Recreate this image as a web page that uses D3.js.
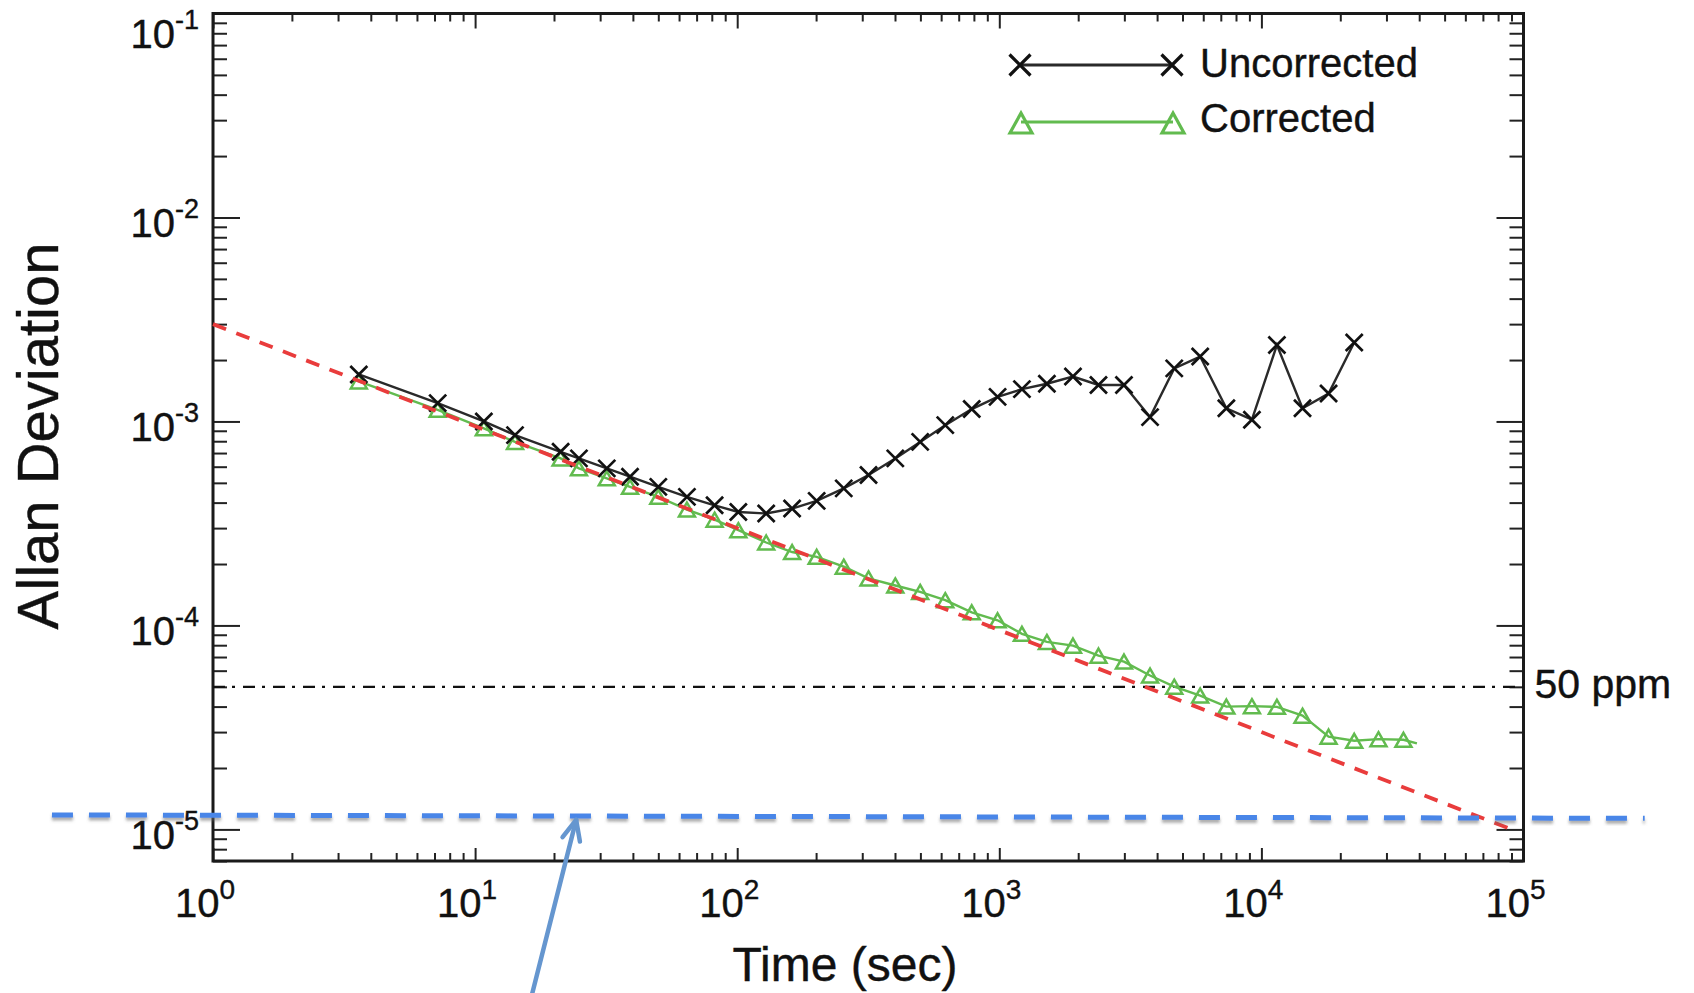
<!DOCTYPE html>
<html>
<head>
<meta charset="utf-8">
<script src="https://cdn.jsdelivr.net/npm/d3@7"></script>
<style>
  body { margin: 0; background: #fff; }
  text { font-family: "Liberation Sans", Arial, Helvetica, sans-serif; fill: #111; stroke: #111; stroke-width: 0.4px; }
</style>
</head>
<body>
<div id="chart"></div>
<script>
// averaging time (sec) shared by both series
const tau = [3.6, 7.2, 10.8, 14.2, 21.2, 24.9, 31.8, 39, 50, 64.3, 82, 101, 129, 162, 201, 255, 317, 401, 499, 622,
  785, 985, 1220, 1519, 1910, 2390, 2990, 3760, 4650, 5840, 7350, 9200, 11460, 14350, 18040, 22600, 27970, 34830, 39200];

// Allan deviation, uncorrected (first 36 tau values)
const uncorrected = [1.70e-3, 1.23e-3, 1.0e-3, 8.57e-4, 7.1e-4, 6.59e-4, 5.89e-4, 5.36e-4, 4.78e-4, 4.27e-4,
  3.88e-4, 3.6e-4, 3.54e-4, 3.74e-4, 4.08e-4, 4.7e-4, 5.46e-4, 6.59e-4, 7.94e-4, 9.59e-4,
  1.15e-3, 1.32e-3, 1.44e-3, 1.53e-3, 1.66e-3, 1.51e-3, 1.51e-3, 1.05e-3, 1.82e-3, 2.08e-3,
  1.16e-3, 1.02e-3, 2.37e-3, 1.16e-3, 1.37e-3, 2.44e-3];

// Allan deviation, corrected (all tau values, last point has no symbol)
const corrected = [1.57e-3, 1.14e-3, 9.25e-4, 7.94e-4, 6.59e-4, 5.89e-4, 5.26e-4, 4.78e-4, 4.27e-4, 3.7e-4,
  3.3e-4, 2.93e-4, 2.55e-4, 2.29e-4, 2.17e-4, 1.94e-4, 1.70e-4, 1.57e-4, 1.46e-4, 1.33e-4,
  1.16e-4, 1.06e-4, 9.1e-5, 8.3e-5, 7.96e-5, 7.11e-5, 6.65e-5, 5.68e-5, 5.01e-5, 4.53e-5,
  4.0e-5, 4.02e-5, 3.99e-5, 3.61e-5, 2.85e-5, 2.72e-5, 2.77e-5, 2.75e-5, 2.64e-5];

// white-noise fit (tau^-1/2), end points
const fitLine = [{ t: 1, v: 3.0e-3 }, { t: 9e4, v: 1.0e-5 }];

// 50 ppm threshold
const threshold = 5e-5;
const thresholdLabel = "50 ppm";

// blue annotation line and arrow (added on top of the figure)
const blueLine = [{ t: 0.243, v: 1.178e-5 }, { t: 2.9e5, v: 1.133e-5 }];
const blueArrow = [{ t: 16.5, v: 1.56e-6 }, { t: 24.3, v: 1.114e-5 }];

// tick decades
const xTickExps = [0, 1, 2, 3, 4, 5];
const yTickExps = [-5, -4, -3, -2, -1];

const seriesNames = ["Uncorrected", "Corrected"];

const W = 1694, H = 993;
const plot = { left: 213, right: 1523.5, top: 13.5, bottom: 861 };

const svg = d3.select("#chart").append("svg")
    .attr("width", W)
    .attr("height", H);

// shadow for the blue annotation
const defs = svg.append("defs");
const shadow = defs.append("filter").attr("id", "shadow")
    .attr("x", "-5%").attr("y", "-200%").attr("width", "110%").attr("height", "500%");
shadow.append("feDropShadow")
    .attr("dx", 0).attr("dy", 3).attr("stdDeviation", 1.6)
    .attr("flood-color", "#666").attr("flood-opacity", 0.55);

// Scales
const x = d3.scaleLog().domain([1, 1e5]).range([plot.left, plot.right]);
const y = d3.scaleLog().domain([7e-6, 0.1]).range([plot.bottom, plot.top]);

// major / minor tick values
function logTicks(domain) {
    const major = [], minor = [];
    const k0 = Math.floor(Math.log10(domain[0])), k1 = Math.ceil(Math.log10(domain[1]));
    for (let k = k0; k <= k1; k++) {
        for (let m = 1; m <= 9; m++) {
            const v = m * Math.pow(10, k);
            if (v < domain[0] * 0.999 || v > domain[1] * 1.001) continue;
            (m === 1 ? major : minor).push(v);
        }
    }
    return { major, minor };
}
const xt = logTicks(x.domain());
const yt = logTicks(y.domain());

function drawAxis(axis, tx, ty) {
    const g = svg.append("g")
        .attr("transform", `translate(${tx},${ty})`)
        .call(axis);
    g.select(".domain").remove();
    g.selectAll("line").attr("stroke", "#222").attr("stroke-width", 2);
    return g;
}

// ticks, all pointing into the plot
drawAxis(d3.axisLeft(y).tickValues(yt.major).tickSize(-27).tickFormat(""), plot.left, 0);
drawAxis(d3.axisLeft(y).tickValues(yt.minor).tickSize(-14).tickFormat(""), plot.left, 0);
drawAxis(d3.axisRight(y).tickValues(yt.major).tickSize(-27).tickFormat(""), plot.right, 0);
drawAxis(d3.axisRight(y).tickValues(yt.minor).tickSize(-14).tickFormat(""), plot.right, 0);
drawAxis(d3.axisBottom(x).tickValues(xt.major).tickSize(-13).tickFormat(""), 0, plot.bottom);
drawAxis(d3.axisBottom(x).tickValues(xt.minor).tickSize(-8).tickFormat(""), 0, plot.bottom);
drawAxis(d3.axisTop(x).tickValues(xt.major).tickSize(-15).tickFormat(""), 0, plot.top);
drawAxis(d3.axisTop(x).tickValues(xt.minor).tickSize(-8).tickFormat(""), 0, plot.top);

// frame
svg.append("rect")
    .attr("x", plot.left).attr("y", plot.top)
    .attr("width", plot.right - plot.left).attr("height", plot.bottom - plot.top)
    .attr("fill", "none").attr("stroke", "#1a1a1a").attr("stroke-width", 3);

// tick labels 10^n
function powLabel(g, e, size, supSize, supDy) {
    g.append("tspan").attr("font-size", size).text("10");
    g.append("tspan").attr("font-size", supSize).attr("dy", supDy).text(e);
}
yTickExps.forEach(e => {
    const t = svg.append("text")
        .attr("x", 199)
        .attr("y", Math.max(y(Math.pow(10, e)) + 20, 48))
        .attr("text-anchor", "end");
    powLabel(t, e, 40, 27, -19);
});
xTickExps.forEach(e => {
    const t = svg.append("text")
        .attr("x", x(Math.pow(10, e)) - 8)
        .attr("y", 917)
        .attr("text-anchor", "middle");
    powLabel(t, e, 40, 28, -18);
});

// axis titles
svg.append("text")
    .attr("x", 845).attr("y", 981)
    .attr("text-anchor", "middle")
    .attr("font-size", 48)
    .text("Time (sec)");

svg.append("text")
    .attr("transform", "translate(58,436) rotate(-90)")
    .attr("text-anchor", "middle")
    .attr("font-size", 58)
    .text("Allan Deviation");

// 50 ppm line
svg.append("line")
    .attr("x1", plot.left).attr("x2", plot.right)
    .attr("y1", y(threshold)).attr("y2", y(threshold))
    .attr("stroke", "#111").attr("stroke-width", 2.2)
    .attr("stroke-dasharray", "12,7,3,8");

svg.append("text")
    .attr("x", plot.right + 11).attr("y", y(threshold) + 11)
    .attr("font-size", 41)
    .text(thresholdLabel);

// series
const green = "#62bb4f";
const line = d3.line().x(d => x(d.t)).y(d => y(d.v));
const corrData = corrected.map((v, i) => ({ t: tau[i], v }));
const uncData = uncorrected.map((v, i) => ({ t: tau[i], v }));

function xPath(s) { return `M${-s},${-s}L${s},${s}M${-s},${s}L${s},${-s}`; }
function triPath(w, h) { return `M0,${-h / 2}L${w / 2},${h / 2}L${-w / 2},${h / 2}Z`; }

svg.append("path")
    .datum(corrData)
    .attr("fill", "none").attr("stroke", green).attr("stroke-width", 2.4)
    .attr("d", line);

svg.selectAll(".tri")
    .data(corrData.slice(0, -1))
    .enter().append("path")
    .attr("class", "tri")
    .attr("transform", d => `translate(${x(d.t)},${y(d.v)})`)
    .attr("d", triPath(16, 14))
    .attr("fill", "none").attr("stroke", green).attr("stroke-width", 2.5);

svg.append("path")
    .datum(uncData)
    .attr("fill", "none").attr("stroke", "#2a2a2a").attr("stroke-width", 2.4)
    .attr("d", line);

svg.selectAll(".cross")
    .data(uncData)
    .enter().append("path")
    .attr("class", "cross")
    .attr("transform", d => `translate(${x(d.t)},${y(d.v)})`)
    .attr("d", xPath(8.5))
    .attr("fill", "none").attr("stroke", "#111").attr("stroke-width", 2.7);

// fit line
svg.append("path")
    .datum(fitLine)
    .attr("fill", "none").attr("stroke", "#e93c3c").attr("stroke-width", 3.8)
    .attr("stroke-dasharray", "14,11")
    .attr("d", line);

// legend
const legend = svg.append("g");
legend.append("line")
    .attr("x1", 1020).attr("x2", 1172).attr("y1", 65).attr("y2", 65)
    .attr("stroke", "#2a2a2a").attr("stroke-width", 2.8);
[1020, 1172].forEach(px => {
    legend.append("path")
        .attr("transform", `translate(${px},65)`)
        .attr("d", xPath(10.5))
        .attr("fill", "none").attr("stroke", "#111").attr("stroke-width", 3.2);
});
legend.append("line")
    .attr("x1", 1021).attr("x2", 1173).attr("y1", 122).attr("y2", 122)
    .attr("stroke", green).attr("stroke-width", 2.8);
[1021, 1173].forEach(px => {
    legend.append("path")
        .attr("transform", `translate(${px},123)`)
        .attr("d", triPath(22, 20))
        .attr("fill", "none").attr("stroke", green).attr("stroke-width", 3.2);
});
seriesNames.forEach((name, i) => {
    legend.append("text")
        .attr("x", 1200).attr("y", 77 + i * 55)
        .attr("font-size", 40)
        .text(name);
});

// blue dashed annotation
svg.append("path")
    .datum(blueLine)
    .attr("fill", "none").attr("stroke", "#4a86e8").attr("stroke-width", 5)
    .attr("stroke-dasharray", "21,16")
    .attr("filter", "url(#shadow)")
    .attr("d", line);

// blue arrow
const a0 = [x(blueArrow[0].t), y(blueArrow[0].v)];
const a1 = [x(blueArrow[1].t), y(blueArrow[1].v)];
const ang = Math.atan2(a0[1] - a1[1], a0[0] - a1[0]);
const barb = 22, spread = 0.42;
const arrow = svg.append("g")
    .attr("fill", "none").attr("stroke", "#6596cf").attr("stroke-width", 4.5)
    .attr("stroke-linecap", "round").attr("stroke-linejoin", "round");
arrow.append("path").attr("d", line(blueArrow));
arrow.append("path").attr("d",
    `M${a1[0] + barb * Math.cos(ang - spread)},${a1[1] + barb * Math.sin(ang - spread)}` +
    `L${a1[0]},${a1[1]}` +
    `L${a1[0] + barb * Math.cos(ang + spread)},${a1[1] + barb * Math.sin(ang + spread)}`);
</script>
</body>
</html>
